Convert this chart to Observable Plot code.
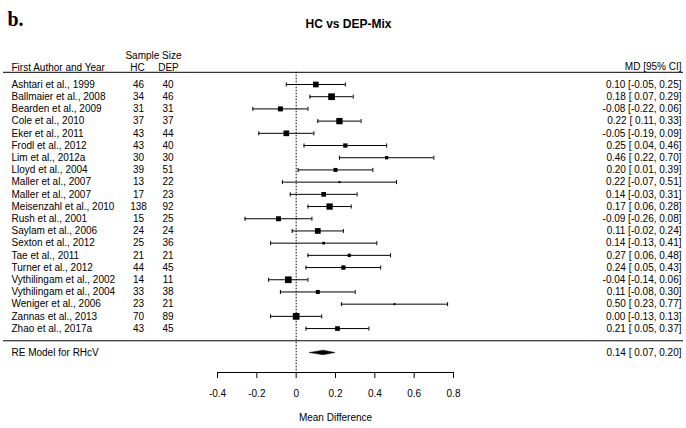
<!DOCTYPE html>
<html>
<head>
<meta charset="utf-8">
<script src="https://cdn.jsdelivr.net/npm/d3@7"></script>
<script src="https://cdn.jsdelivr.net/npm/@observablehq/plot@0.6"></script>
<style>
  html, body { margin: 0; padding: 0; background: #fff; }
  #chart svg { display: block; }
</style>
</head>
<body>
<div id="chart"></div>
<script>
// ---- data ----
const studies = [
  "Ashtari et al., 1999", "Ballmaier et al., 2008", "Bearden et al., 2009", "Cole et al., 2010",
  "Eker et al., 2011", "Frodl et al., 2012", "Lim et al., 2012a", "Lloyd et al., 2004",
  "Maller et al., 2007", "Maller et al., 2007", "Meisenzahl et al., 2010", "Rush et al., 2001",
  "Saylam et al., 2006", "Sexton et al., 2012", "Tae et al., 2011", "Turner et al., 2012",
  "Vythilingam et al., 2002", "Vythilingam et al., 2004", "Weniger et al., 2006",
  "Zannas et al., 2013", "Zhao et al., 2017a"
];
const hc  = [46, 34, 31, 37, 43, 43, 30, 39, 13, 17, 138, 15, 24, 25, 21, 44, 14, 33, 23, 70, 43];
const dep = [40, 46, 31, 37, 44, 40, 30, 51, 22, 23, 92, 25, 24, 36, 21, 45, 11, 38, 21, 89, 45];
const md    = [0.10, 0.18, -0.08, 0.22, -0.05, 0.25, 0.46, 0.20, 0.22, 0.14, 0.17, -0.09, 0.11, 0.14, 0.27, 0.24, -0.04, 0.11, 0.50, 0.00, 0.21];
const lower = [-0.05, 0.07, -0.22, 0.11, -0.19, 0.04, 0.22, 0.01, -0.07, -0.03, 0.06, -0.26, -0.02, -0.13, 0.06, 0.05, -0.14, -0.08, 0.23, -0.13, 0.05];
const upper = [0.25, 0.29, 0.06, 0.33, 0.09, 0.46, 0.70, 0.39, 0.51, 0.31, 0.28, 0.08, 0.24, 0.41, 0.48, 0.43, 0.06, 0.30, 0.77, 0.13, 0.37];
// relative study weights
const weight = [57, 67, 50, 63, 57, 43, 33, 40, 20, 47, 63, 50, 57, 27, 33, 43, 67, 40, 20, 67, 47];
const reLabel = "RE Model for RHcV";
const reEstimate = [0.14, 0.07, 0.20]; // md, lower, upper
const xTicks = [-0.4, -0.2, 0, 0.2, 0.4, 0.6, 0.8];
const title = "HC vs DEP-Mix";
const panelLabel = "b.";
const xLabel = "Mean Difference";

// ---- helpers ----
const f2 = v => (v < 0 ? "-" : "") + Math.abs(v).toFixed(2);
const ciText = (m, l, u) => `${f2(m)} [${l >= 0 ? " " : ""}${f2(l)}, ${f2(u)}]`;

const rows = studies.map((s, i) => ({
  study: s, hc: hc[i], dep: dep[i], md: md[i], lo: lower[i], hi: upper[i], w: weight[i], row: i + 1,
  label: ciText(md[i], lower[i], upper[i])
}));
const n = rows.length;
const sepRow = n + 1;
const reRow = n + 2;
const yMax = n + 3.6;
const dh = 0.19;
const diamond = [
  {x: reEstimate[1], ya: reRow, yb: reRow},
  {x: reEstimate[0], ya: reRow - dh, yb: reRow + dh},
  {x: reEstimate[2], ya: reRow, yb: reRow}
];
const vline = {
  draw(ctx, size) { const h = Math.sqrt(size) / 2; ctx.moveTo(0, -h); ctx.lineTo(0, h); }
};
const xMid = (xTicks[0] + xTicks[xTicks.length - 1]) / 2;
const font = "'Liberation Sans', Arial, sans-serif";

const chart = Plot.plot({
  width: 686,
  height: 428,
  marginLeft: 0,
  marginRight: 0,
  marginTop: 71.8,
  marginBottom: 56,
  style: {fontFamily: font, fontSize: "10px", color: "#000", background: "#fff"},
  x: {domain: [xTicks[0], xTicks[xTicks.length - 1]], range: [217, 453]},
  y: {domain: [0, yMax], reverse: true, axis: null},
  r: {type: "linear", domain: [0, 67], range: [0, 3.78]},
  marks: [
    // horizontal separators
    Plot.ruleY([0, sepRow], {stroke: "#000", strokeWidth: 1, insetLeft: 3, insetRight: 3}),
    // reference line at 0
    Plot.ruleX([0], {y1: 0, y2: yMax, stroke: "#000", strokeDasharray: "1.5,1.5"}),
    // CIs
    Plot.ruleY(rows, {y: "row", x1: "lo", x2: "hi", stroke: "#000", strokeWidth: 1}),
    Plot.dot(rows, {x: "lo", y: "row", symbol: vline, r: 2.3, stroke: "#000", strokeWidth: 1}),
    Plot.dot(rows, {x: "hi", y: "row", symbol: vline, r: 2.3, stroke: "#000", strokeWidth: 1}),
    Plot.dot(rows, {x: "md", y: "row", r: "w", symbol: "square", fill: "#000", stroke: null}),
    // summary diamond
    Plot.area(diamond, {x1: "x", y1: "ya", y2: "yb", fill: "#000", stroke: "#000", strokeWidth: 0.5}),
    // axis
    Plot.ruleY([yMax], {x1: xTicks[0], x2: xTicks[xTicks.length - 1], stroke: "#000"}),
    Plot.axisX(xTicks, {tickSize: 6, tickPadding: 11, tickFormat: d => String(d), label: null, fontSize: 10, stroke: "#000"}),
    Plot.text([xLabel], {x: () => xMid, frameAnchor: "bottom", dy: 48, fontSize: 10, fill: "#000"}),
    // left columns
    Plot.text(rows, {y: "row", text: "study", frameAnchor: "left", dx: 11, textAnchor: "start", fill: "#000"}),
    Plot.text(rows, {y: "row", text: "hc", frameAnchor: "left", dx: 138, textAnchor: "middle", fill: "#000"}),
    Plot.text(rows, {y: "row", text: "dep", frameAnchor: "left", dx: 167.5, textAnchor: "middle", fill: "#000"}),
    Plot.text([reLabel], {y: () => reRow, frameAnchor: "left", dx: 11, textAnchor: "start", fill: "#000"}),
    // right column
    Plot.text(rows, {y: "row", text: "label", frameAnchor: "right", dx: -5, textAnchor: "end", fill: "#000"}),
    Plot.text([ciText(...reEstimate)], {y: () => reRow, frameAnchor: "right", dx: -5, textAnchor: "end", fill: "#000"}),
    // headers
    Plot.text(["First Author and Year"], {frameAnchor: "top-left", dx: 11, dy: -8, textAnchor: "start", fill: "#000"}),
    Plot.text(["Sample Size"], {frameAnchor: "top-left", dx: 153, dy: -20, textAnchor: "middle", fill: "#000"}),
    Plot.text(["HC"], {frameAnchor: "top-left", dx: 137, dy: -8, textAnchor: "middle", fill: "#000"}),
    Plot.text(["DEP"], {frameAnchor: "top-left", dx: 168, dy: -8, textAnchor: "middle", fill: "#000"}),
    Plot.text(["MD [95% CI]"], {frameAnchor: "top-right", dx: -5, dy: -9, textAnchor: "end", fill: "#000"}),
    // title & panel label
    Plot.text([title], {frameAnchor: "top", dx: 5, dy: -53, fontSize: 12, fontWeight: "bold", fill: "#000"}),
    Plot.text([panelLabel], {frameAnchor: "top-left", dx: 7, dy: -61, textAnchor: "start", fontSize: 20, fontWeight: "bold", fontFamily: "'Liberation Serif', 'DejaVu Serif', serif", fill: "#000"})
  ]
});
document.getElementById("chart").appendChild(chart);
</script>
</body>
</html>
